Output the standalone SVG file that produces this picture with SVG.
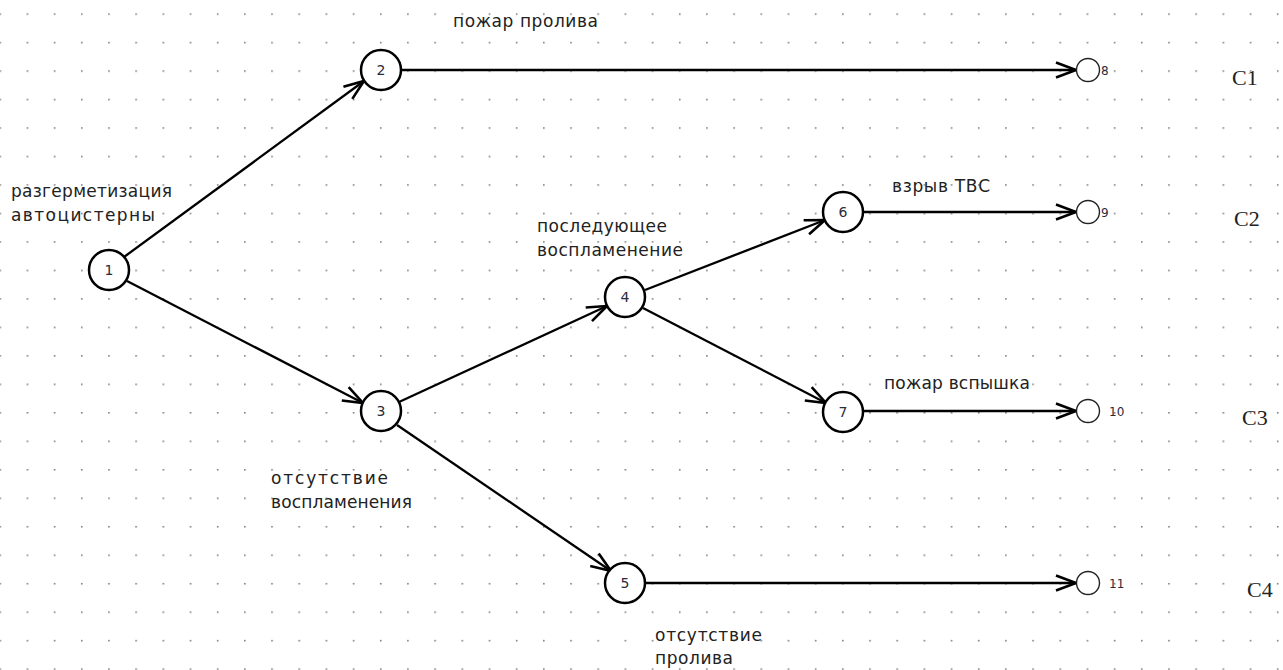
<svg xmlns="http://www.w3.org/2000/svg" width="1283" height="670" viewBox="0 0 1283 670">
  <defs>
    <pattern id="grid" patternUnits="userSpaceOnUse" x="26.6" y="13.3" width="27.18" height="28.48">
      <rect x="0" y="0" width="1.6" height="1.6" fill="#808080"/>
    </pattern>
    <marker id="arrow" viewBox="0 0 22 18" refX="21" refY="9" markerWidth="22" markerHeight="18" markerUnits="userSpaceOnUse" orient="auto">
      <path d="M1,1.5 L21,9 L1,16.5" fill="none" stroke="#000" stroke-width="2.6" stroke-linejoin="miter"/>
    </marker>
    <style>
      .edge { stroke: #000; stroke-width: 2.3; fill: none; marker-end: url(#arrow); }
      .node { fill: #fff; stroke: #000; stroke-width: 2.5; }
      .end { fill: #fff; stroke: #222; stroke-width: 1.4; }
      .num { font-family: "DejaVu Sans", "Liberation Sans", sans-serif; font-size: 14px; fill: #2a2a3a; text-anchor: middle; }
      .endnum { font-family: "DejaVu Sans", "Liberation Sans", sans-serif; font-size: 12px; fill: #2a2a3a; }
      .lbl { font-family: "DejaVu Sans", "Liberation Sans", sans-serif; font-size: 17px; fill: #222; }
      .cls { font-family: "Liberation Serif", serif; font-size: 22px; fill: #222; }
    </style>
  </defs>

  <rect width="1283" height="670" fill="#fff"/>
  <rect width="1283" height="670" fill="url(#grid)"/>

  <g id="connectors">
    <line class="edge" x1="124" y1="257" x2="364" y2="81"/>
    <line class="edge" x1="127" y1="281" x2="363" y2="403"/>
    <line class="edge" x1="401" y1="70" x2="1076" y2="70"/>
    <line class="edge" x1="399" y1="402" x2="607" y2="306"/>
    <line class="edge" x1="397" y1="425" x2="611" y2="571"/>
    <line class="edge" x1="645" y1="290" x2="825" y2="220"/>
    <line class="edge" x1="643" y1="308" x2="826" y2="403"/>
    <line class="edge" x1="863" y1="212" x2="1076" y2="212"/>
    <line class="edge" x1="861" y1="411" x2="1076" y2="411"/>
    <line class="edge" x1="645" y1="583" x2="1076" y2="583"/>
  </g>

  <g id="node1"><circle class="node" cx="109" cy="270" r="20"/><text class="num" x="109" y="275">1</text></g>
  <g id="node2"><circle class="node" cx="381" cy="70" r="20"/><text class="num" x="381" y="75">2</text></g>
  <g id="node3"><circle class="node" cx="381" cy="411" r="20"/><text class="num" x="381" y="416">3</text></g>
  <g id="node4"><circle class="node" cx="625" cy="297" r="20"/><text class="num" x="625" y="302">4</text></g>
  <g id="node5"><circle class="node" cx="625" cy="583" r="20"/><text class="num" x="625" y="588">5</text></g>
  <g id="node6"><circle class="node" cx="843" cy="212" r="20"/><text class="num" x="843" y="217">6</text></g>
  <g id="node7"><circle class="node" cx="843" cy="412" r="20"/><text class="num" x="843" y="417">7</text></g>

  <g id="node8"><circle class="end" cx="1088" cy="70" r="11.5"/><text class="endnum" x="1101" y="74.5">8</text></g>
  <g id="node9"><circle class="end" cx="1088" cy="212" r="11.5"/><text class="endnum" x="1101" y="216.5">9</text></g>
  <g id="node10"><circle class="end" cx="1088" cy="411" r="11.5"/><text class="endnum" x="1109" y="415.5">10</text></g>
  <g id="node11"><circle class="end" cx="1088" cy="583" r="11.5"/><text class="endnum" x="1109" y="587.5">11</text></g>

  <g id="labels">
    <text class="lbl" x="453" y="27" textLength="145">пожар пролива</text>
    <text class="lbl" x="11" y="197" textLength="161">разгерметизация</text>
    <text class="lbl" x="11" y="221" textLength="144">автоцистерны</text>
    <text class="lbl" x="537" y="232" textLength="130">последующее</text>
    <text class="lbl" x="537" y="256" textLength="146">воспламенение</text>
    <text class="lbl" x="892" y="192" textLength="98">взрыв ТВС</text>
    <text class="lbl" x="884" y="389" textLength="146">пожар вспышка</text>
    <text class="lbl" x="271" y="484" textLength="117">отсутствие</text>
    <text class="lbl" x="271" y="508" textLength="141">воспламенения</text>
    <text class="lbl" x="655" y="641" textLength="107">отсутствие</text>
    <text class="lbl" x="655" y="664" textLength="78">пролива</text>
  </g>

  <g id="outcomes">
    <text class="cls" x="1232" y="85">C1</text>
    <text class="cls" x="1234" y="226">C2</text>
    <text class="cls" x="1242" y="425">C3</text>
    <text class="cls" x="1247" y="597">C4</text>
  </g>
</svg>
